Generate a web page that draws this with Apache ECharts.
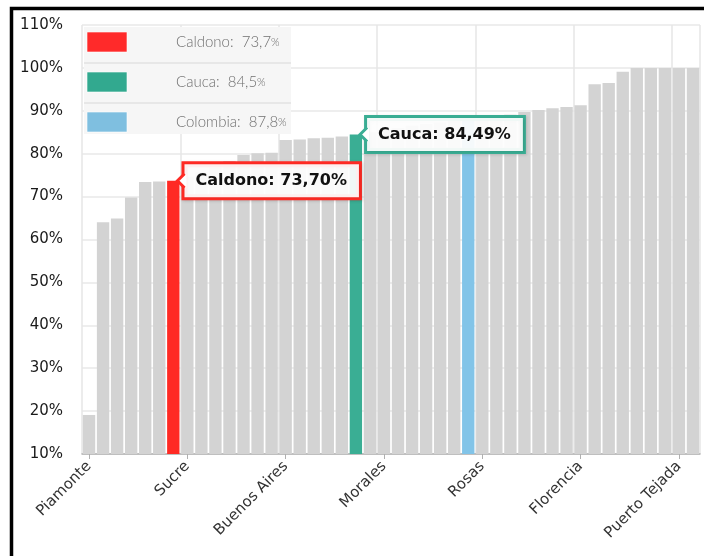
<!DOCTYPE html>
<html><head><meta charset="utf-8">
<script src="https://cdn.jsdelivr.net/npm/echarts@6/dist/echarts.min.js"></script>
<style>html,body{margin:0;padding:0;background:#fff}#c{width:704px;height:556px}</style>
</head><body><div id="c"></div>
<script>
const categories = ['Piamonte','Santa Rosa','Timbiquí','López de Micay','Guapí','Argelia','Caldono','Sucre','Jambaló','Almaguer','Inzá','Páez','Toribío','La Vega','Buenos Aires','Totoró','San Sebastián','Silvia','Balboa','Cauca','Bolívar','Morales','Puracé','Suárez','Cajibío','Mercaderes','La Sierra','Colombia','Rosas','Sotará','Patía','El Tambo','Caloto','Piendamó','Corinto','Florencia','Timbío','Miranda','Padilla','Santander de Quilichao','Guachené','Villa Rica','Puerto Tejada','Popayán'];
const values = [19.1,64.0,64.9,69.8,73.4,73.5,73.7,74.6,75.6,76.8,78.3,79.7,80.1,80.2,83.2,83.3,83.6,83.7,84.0,84.49,85.0,85.5,86.0,86.5,86.9,87.2,87.6,87.8,88.9,89.0,89.1,89.7,90.2,90.6,90.9,91.3,96.2,96.5,99.1,100,100,100,100,100];
const highlightNames = ['Caldono','Cauca','Colombia'];
const highlightColors = ['#ff2a24','#3aae94','#82c4e8'];
const legendColors = ['#ff2a2a','#32a98f','#7fbfe0'];
const calloutNames = ['Caldono','Cauca'];
const yTicks = [10,20,30,40,50,60,70,80,90,100,110];

const fmt = (v, d) => v.toFixed(d).replace('.', ',');
const data = values.map((v, i) => {
  const name = categories[i];
  const h = highlightNames.indexOf(name);
  const item = { value: v, itemStyle: { color: h >= 0 ? highlightColors[h] : '#d3d3d3' } };
  if (calloutNames.indexOf(name) >= 0) {
    item.label = {
      show: true, position: ['100%', 0], offset: [5, 0], align: 'left', verticalAlign: 'middle',
      formatter: name + ': ' + fmt(v, 2) + '%',
      fontFamily: 'DejaVu Sans', fontWeight: 'bold', fontSize: 16, color: '#111',
      backgroundColor: 'rgba(255,255,255,0.93)', borderColor: highlightColors[h], borderWidth: 3,
      padding: [8, 12, 7, 11], lineHeight: 18,
      shadowColor: 'rgba(0,0,0,0.15)', shadowBlur: 3, shadowOffsetX: 1, shadowOffsetY: 1
    };
  }
  return item;
});

const legendEls = [];
highlightNames.forEach((n, i) => {
  const v = values[categories.indexOf(n)];
  const top = [27, 63, 103][i], h = [36, 40, 31][i];
  legendEls.push({ type: 'rect', shape: { x: 84, y: top, width: 207, height: h }, style: { fill: '#f6f6f6' }, z: 50 });
  if (i > 0) legendEls.push({ type: 'line', shape: { x1: 84, y1: top, x2: 291, y2: top }, style: { stroke: '#e2e2e2', lineWidth: 1.5 }, z: 51 });
  const cy = [42, 82, 122][i];
  legendEls.push({ type: 'rect', shape: { x: 87, y: cy - 10, width: 40, height: 20 }, style: { fill: legendColors[i], stroke: 'rgba(255,255,255,0.6)', lineWidth: 1 }, z: 52 });
  legendEls.push({ type: 'text', x: 176, y: cy, style: { text: '{a|' + n + ':  ' + fmt(v, 1) + '}{p|%}', rich: { a: { fontFamily: 'Lato', fontWeight: 300, fontSize: 15, fill: '#707070' }, p: { fontFamily: 'Lato', fontWeight: 300, fontSize: 11, fill: '#707070' } }, verticalAlign: 'middle', align: 'left' }, z: 52 });
});
legendEls.push({ type: 'rect', shape: { x: 11.5, y: 8.5, width: 900, height: 900 }, style: { fill: 'none', stroke: '#000', lineWidth: 3.5 }, z: 60 });

const chart = echarts.init(document.getElementById('c'));
chart.setOption({
  animation: false,
  backgroundColor: '#fff',
  grid: { left: 82, right: 4, top: 25, bottom: 102, containLabel: false },
  xAxis: {
    type: 'category', data: categories, boundaryGap: true,
    axisLine: { show: true, lineStyle: { color: '#b0b0b0', width: 1.5 } },
    axisTick: { show: true, alignWithLabel: true, interval: 6, length: 5, lineStyle: { color: '#b0b0b0' } },
    axisLabel: { interval: 6, rotate: 45, margin: 10, fontFamily: 'DejaVu Sans', fontSize: 15, color: '#333' },
    splitLine: { show: true, interval: 6, lineStyle: { color: '#e6e6e6', width: 1.5 } }
  },
  yAxis: {
    type: 'value', min: yTicks[0], max: yTicks[yTicks.length - 1], interval: 10,
    axisLine: { show: false }, axisTick: { show: false },
    axisLabel: { formatter: '{value}%', margin: 19, fontFamily: 'DejaVu Sans', fontSize: 15, color: '#1a1a1a' },
    splitLine: { show: true, lineStyle: { color: '#e8e8e8', width: 1.5 } }
  },
  series: [{ type: 'bar', data: data, barCategoryGap: '12%', z: 2 }],
  graphic: legendEls
});

// callout notches, positioned from the chart's own scales
const notchEls = [];
calloutNames.forEach((n) => {
  const idx = categories.indexOf(n);
  const h = highlightNames.indexOf(n);
  const p = chart.convertToPixel({ seriesIndex: 0 }, [idx, values[idx]]);
  const p2 = chart.convertToPixel({ seriesIndex: 0 }, [idx + 1, values[idx]]);
  const bw = (p2[0] - p[0]) * 0.88;
  const boxLeft = p[0] + bw / 2 + 5;
  const y = p[1];
  notchEls.push({ type: 'polygon', shape: { points: [[boxLeft - 7, y], [boxLeft + 2, y - 7], [boxLeft + 2, y + 7]] }, style: { fill: '#fff' }, z: 200 });
  notchEls.push({ type: 'polyline', shape: { points: [[boxLeft, y - 7], [boxLeft - 7, y], [boxLeft, y + 7]] }, style: { stroke: highlightColors[h], lineWidth: 3, fill: 'none' }, z: 201 });
});
chart.setOption({ graphic: legendEls.concat(notchEls) });
</script>
</body></html>
